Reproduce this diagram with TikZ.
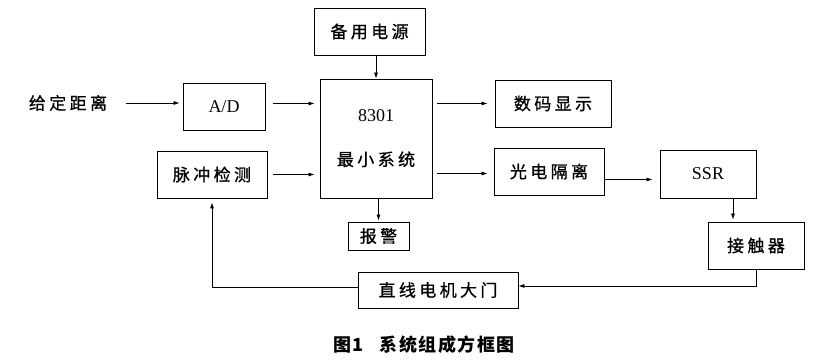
\documentclass[tikz,border=0pt]{standalone}
\usepackage{fontspec}
\setmainfont{Liberation Serif}
\newfontfamily\cjk[LetterSpace=20, FakeBold=0.8]{Noto Sans CJK SC}
\newfontfamily\cjkcap[LetterSpace=8]{Noto Sans CJK SC}
\usetikzlibrary{positioning,arrows.meta,calc}

\tikzset{
  blk/.style={draw, line width=0.8pt, inner sep=0pt, minimum height=47pt,
    font=\cjk\fontsize{17}{20}\selectfont},
  arr/.style={-{Latex[length=6pt,width=4pt]}, line width=0.7pt},
}

\begin{document}
\begin{tikzpicture}[x=1pt, y=-1pt]
  \useasboundingbox (0,0) rectangle (839,361);

  % blocks
  \node[blk, minimum width=111pt] (power) at (369.5,31.5) {备用电源};
  \node[font=\cjk\fontsize{17}{20}\selectfont] (dist) at (68,103) {给定距离};
  \node[blk, minimum width=82pt, font=\fontsize{18}{20}\selectfont] (ad) at (224,106.5) {A/D};
  \node[blk, minimum width=112pt, minimum height=119pt, align=center] (mcu) at (376,138.5)
    {{\rmfamily\fontsize{18}{20}\selectfont 8301}\\[24pt]最小系统};
  \node[blk, minimum width=110pt] (pulse) at (212,174.5) {脉冲检测};
  \node[blk, minimum width=116pt] (disp) at (553,103.5) {数码显示};
  \node[blk, minimum width=110pt] (iso) at (549,171.5) {光电隔离};
  \node[blk, minimum width=96pt, minimum height=48pt, font=\fontsize{18}{20}\selectfont] (ssr) at (708,174) {SSR};
  \node[blk, minimum width=96pt] (contact) at (756,245.5) {接触器};
  \node[blk, minimum width=61pt, minimum height=28pt] (alarm) at (378.5,236) {报警};
  \node[blk, minimum width=160pt, minimum height=36pt] (motor) at (438,290) {直线电机大门};

  % connectors
  \draw[arr, shorten <=15pt, shorten >=3pt] (dist.east) -- (dist.east -| ad.west);
  \draw[arr, shorten <=8pt, shorten >=5pt] ([yshift=3pt]ad.east) -- ([yshift=3pt]ad.east -| mcu.west);
  \draw[arr, shorten <=6pt, shorten >=5pt] (pulse.east) -- (pulse.east -| mcu.west);
  \draw[arr] (power.south -| mcu.north) -- (mcu.north);
  \draw[arr, shorten <=5pt, shorten >=7pt] (disp.west -| mcu.east) -- (disp.west);
  \draw[arr, shorten <=5pt, shorten >=6pt] ([yshift=-2pt]iso.west -| mcu.east) -- ([yshift=-2pt]iso.west);
  \draw[arr, shorten >=7pt] ([yshift=-8pt]iso.east) -- ([yshift=-8pt]iso.east -| ssr.west);
  \draw[arr, shorten >=2pt] ([xshift=-23pt]contact.north |- ssr.south) -- ([xshift=-23pt]contact.north);
  \draw[arr, shorten >=1pt] (alarm.north |- mcu.south) -- (alarm.north);
  \draw[arr] (contact.south) |- ([yshift=4pt]motor.east);
  \draw[arr, shorten >=4pt] ([yshift=3pt]motor.west) -| (pulse.south);

  % caption
  \node[font=\cjkcap\bfseries\fontsize{18}{20}\selectfont] (cap) at (424,345) {图1\hspace{0.9em}系统组成方框图};
\end{tikzpicture}
\end{document}
